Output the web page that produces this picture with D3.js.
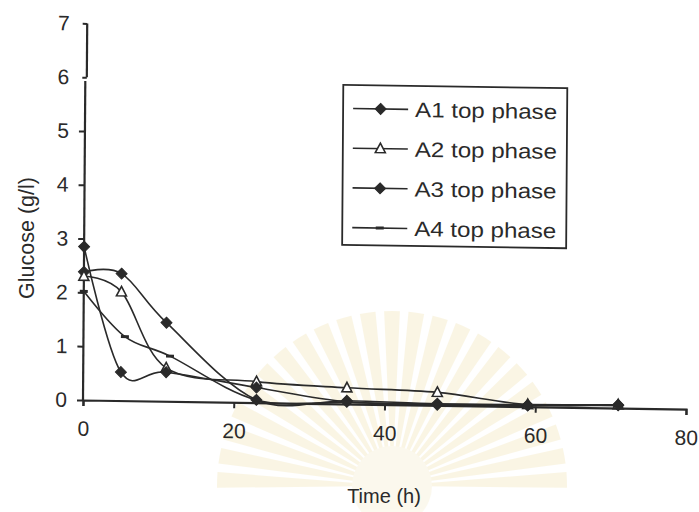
<!DOCTYPE html>
<html>
<head>
<meta charset="utf-8">
<script src="https://cdn.jsdelivr.net/npm/d3@7/dist/d3.min.js"></script>
<style>
  html, body { margin: 0; padding: 0; background: #fff; }
  svg { display: block; }
  text { font-family: "Liberation Sans", Arial, sans-serif; fill: #2a2a2a; }
</style>
</head>
<body>
<script>
// Sampling times (h) and glucose concentrations (g/l) of the top phases
const times   = [0, 5, 11, 23, 35, 47, 59, 71];
const timesA4 = [0, 5.5, 11.5, 23, 35, 47, 59, 71];
const a1Top = [2.38, 2.36, 1.46, 0.05, 0.06, 0.03, 0.03, 0.06];
const a2Top = [2.30, 2.02, 0.62, 0.39, 0.30, 0.24, 0.04, 0.06];
const a3Top = [2.85, 0.53, 0.54, 0.28, 0.04, 0.01, 0.02, 0.05];
const a4Top = [2.02, 1.19, 0.84, 0.05, 0.03, 0.02, 0.04, 0.05];

const seriesNames = ["A1 top phase", "A2 top phase", "A3 top phase", "A4 top phase"];
const seriesMarks = ["diamond", "triangle", "diamond", "dash"];
const xTicks = [0, 20, 40, 60, 80];
const yTicks = [0, 1, 2, 3, 4, 5, 6, 7];

const W = 699, H = 512;
const ink = "#2a2a2a";

const svg = d3.select("body").append("svg").attr("width", W).attr("height", H);
svg.append("rect").attr("width", W).attr("height", H).attr("fill", "#fff");

// faint sunburst emblem printed behind the plot
const emblem = svg.append("g").attr("transform", "translate(392,486)").attr("opacity", 0.28);
const rayArc = d3.arc().innerRadius(34).outerRadius(175);
d3.range(-88, 89, 8).forEach(a => {
  const r = a * Math.PI / 180;
  emblem.append("path")
    .attr("d", rayArc({ startAngle: r - 0.045, endAngle: r + 0.045 }))
    .attr("fill", "#efdea2");
});
emblem.append("circle").attr("r", 40).attr("fill", "#f4e8c2");

// slight skew of the whole drawing
const root = svg.append("g")
  .attr("transform", "translate(83,400) matrix(1,0.015,-0.0072,1,0,0) translate(-83,-400)");

const x = d3.scaleLinear().domain([0, 80]).range([83, 686]);
const y = d3.scaleLinear().domain([0, 7]).range([400, 23.4]);

// y axis: ticks and labels from d3, axis line drawn in two pieces
const yAxis = root.append("g").attr("transform", `translate(${x(0)},0)`)
  .call(d3.axisLeft(y).tickValues(yTicks).tickSize(6).tickPadding(10).tickFormat(d3.format("d")));
yAxis.select(".domain").remove();
yAxis.selectAll(".tick line").attr("stroke", ink).attr("stroke-width", 2);
yAxis.selectAll(".tick text").attr("font-size", 21).attr("fill", ink);
root.append("line").attr("x1", x(0)).attr("x2", x(0)).attr("y1", y(0)).attr("y2", y(5.93))
  .attr("stroke", ink).attr("stroke-width", 2.2);
root.append("line").attr("x1", x(0) + 1.5).attr("x2", x(0) + 1.5).attr("y1", y(6)).attr("y2", y(7))
  .attr("stroke", ink).attr("stroke-width", 2.2);
yAxis.selectAll(".tick").filter(d => d >= 6).select("line").attr("x2", -4.5).attr("transform", "translate(1.5,0)");

// x axis
const xAxis = root.append("g").attr("transform", `translate(0,${y(0)})`)
  .call(d3.axisBottom(x).tickValues(xTicks).tickSize(6).tickPadding(15).tickFormat(d3.format("d")));
xAxis.select(".domain").attr("stroke", ink).attr("stroke-width", 2.2);
xAxis.selectAll(".tick line").attr("stroke", ink).attr("stroke-width", 2);
xAxis.selectAll(".tick text").attr("font-size", 21).attr("fill", ink);

// series
const series = [
  { ts: times, vs: a1Top },
  { ts: times, vs: a2Top },
  { ts: times, vs: a3Top },
  { ts: timesA4, vs: a4Top }
].map((s, i) => ({
  name: seriesNames[i], mark: seriesMarks[i],
  pts: s.ts.map((t, j) => ({ t, v: s.vs[j] }))
}));

const line = d3.line().x(d => x(d.t)).y(d => y(d.v)).curve(d3.curveCardinal.tension(0));

function drawMark(g, kind, cx, cy) {
  if (kind === "diamond") {
    g.append("path").attr("d", "M0,-5.5L5.5,0L0,5.5L-5.5,0Z")
      .attr("transform", `translate(${cx},${cy})`).attr("fill", ink).attr("stroke", ink).attr("stroke-width", 1);
  } else if (kind === "triangle") {
    g.append("path").attr("d", "M0,-5.5L5,4L-5,4Z")
      .attr("transform", `translate(${cx},${cy})`).attr("fill", "#fff").attr("stroke", ink).attr("stroke-width", 1.6);
  } else {
    g.append("rect").attr("x", cx - 4).attr("y", cy - 1.5).attr("width", 8).attr("height", 3).attr("fill", ink);
  }
}

const plot = root.append("g");
series.forEach(s => {
  const g = plot.append("g");
  g.append("path").attr("d", line(s.pts)).attr("fill", "none").attr("stroke", ink).attr("stroke-width", 1.6);
  s.pts.forEach(p => drawMark(g, s.mark, x(p.t), y(p.v)));
});

// legend
const lg = root.append("g").attr("transform", "translate(341,81)");
lg.append("rect").attr("width", 224).attr("height", 160).attr("fill", "#fff")
  .attr("stroke", ink).attr("stroke-width", 1.8);
series.forEach((s, i) => {
  const cy = 23.5 + i * 39.7;
  lg.append("line").attr("x1", 10).attr("x2", 65).attr("y1", cy).attr("y2", cy)
    .attr("stroke", ink).attr("stroke-width", 1.6);
  drawMark(lg, s.mark, 37.5, cy);
  lg.append("text").attr("x", 72).attr("y", cy).attr("dy", "0.36em")
    .attr("font-size", 21).attr("textLength", 142).attr("lengthAdjust", "spacingAndGlyphs")
    .text(s.name);
});

// axis titles
svg.append("text").attr("transform", "translate(34,238) rotate(-90)")
  .attr("text-anchor", "middle").attr("font-size", 21.5).text("Glucose (g/l)");
svg.append("text").attr("x", 384).attr("y", 503)
  .attr("text-anchor", "middle").attr("font-size", 20).text("Time (h)");
</script>
</body>
</html>
